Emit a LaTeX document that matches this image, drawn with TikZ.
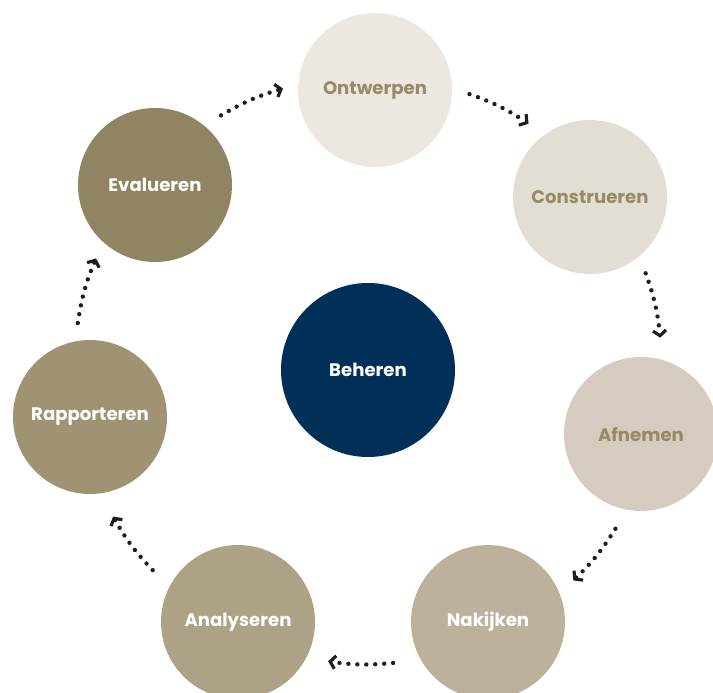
\documentclass[tikz,border=0pt]{standalone}
\usepackage{fontspec}
\setmainfont{Poppins}
\usetikzlibrary{arrows.meta}

\definecolor{navy}{HTML}{003057}
\definecolor{sandA}{HTML}{ECE8E1}
\definecolor{sandB}{HTML}{E3DED4}
\definecolor{sandC}{HTML}{D5CCBF}
\definecolor{sandD}{HTML}{BDB19B}
\definecolor{sandE}{HTML}{ADA285}
\definecolor{sandF}{HTML}{A09373}
\definecolor{sandG}{HTML}{918462}
\definecolor{phasetext}{HTML}{978A65}
\definecolor{dotcol}{HTML}{1E1E1E}

\begin{document}
\begin{tikzpicture}[
    phase/.style={circle, minimum size=3.08cm, inner sep=0pt, align=center, font=\bfseries\fontsize{10.3}{12}\selectfont, text=white},
    light/.style={phase, text=phasetext},
    flow/.style={draw=dotcol, line width=2.5pt, line cap=round, dash pattern=on 0pt off 5.1pt, -{Straight Barb[length=3pt, width=7.5pt, line width=1.8pt]}},
]
    \useasboundingbox (-7.36,-6.46) rectangle (6.90,7.40);

    % Centre
    \node[phase, fill=navy, minimum size=3.48cm] (beh) at (0,0) {Beheren};

    % Cycle, clockwise from the top
    \node[light, fill=sandA] (ont) at (0.14, 5.60) {Ontwerpen};
    \node[light, fill=sandB] (con) at (4.44, 3.46) {Construeren};
    \node[light, fill=sandC] (afn) at (5.46, -1.28) {Afnemen};
    \node[phase, fill=sandD] (nak) at (2.40, -5.04) {Nakijken};
    \node[phase, fill=sandE] (ana) at (-2.60, -5.04) {Analyseren};
    \node[phase, fill=sandF] (rap) at (-5.56, -0.94) {Rapporteren};
    \node[phase, fill=sandG] (eva) at (-4.26, 3.70) {Evalueren};

    % Arrow ends on the outer ring
    \coordinate (eva-out) at (120:5.88);
    \coordinate (ont-in)  at (106.8:5.88);
    \coordinate (ont-out) at (69.8:5.88);
    \coordinate (con-in)  at (56.9:5.88);
    \coordinate (con-out) at (19.2:5.88);
    \coordinate (afn-in)  at (6.3:5.88);
    \coordinate (afn-out) at (-32.7:5.88);
    \coordinate (nak-in)  at (-45.7:5.88);
    \coordinate (nak-out) at (-85.1:5.88);
    \coordinate (ana-in)  at (-97.8:5.88);
    \coordinate (ana-out) at (-137.1:5.88);
    \coordinate (rap-in)  at (-150.1:5.88);
    \coordinate (rap-out) at (170.8:5.88);
    \coordinate (eva-in)  at (157.7:5.88);

    % Dotted arrows
    \draw[flow] (eva-out) to[bend left=7] (ont-in);
    \draw[flow] (ont-out) to[bend left=7] (con-in);
    \draw[flow] (con-out) to[bend left=7] (afn-in);
    \draw[flow] (afn-out) to[bend left=7] (nak-in);
    \draw[flow] (nak-out) to[bend left=7] (ana-in);
    \draw[flow] (ana-out) to[bend left=7] (rap-in);
    \draw[flow] (rap-out) to[bend left=7] (eva-in);
\end{tikzpicture}
\end{document}
